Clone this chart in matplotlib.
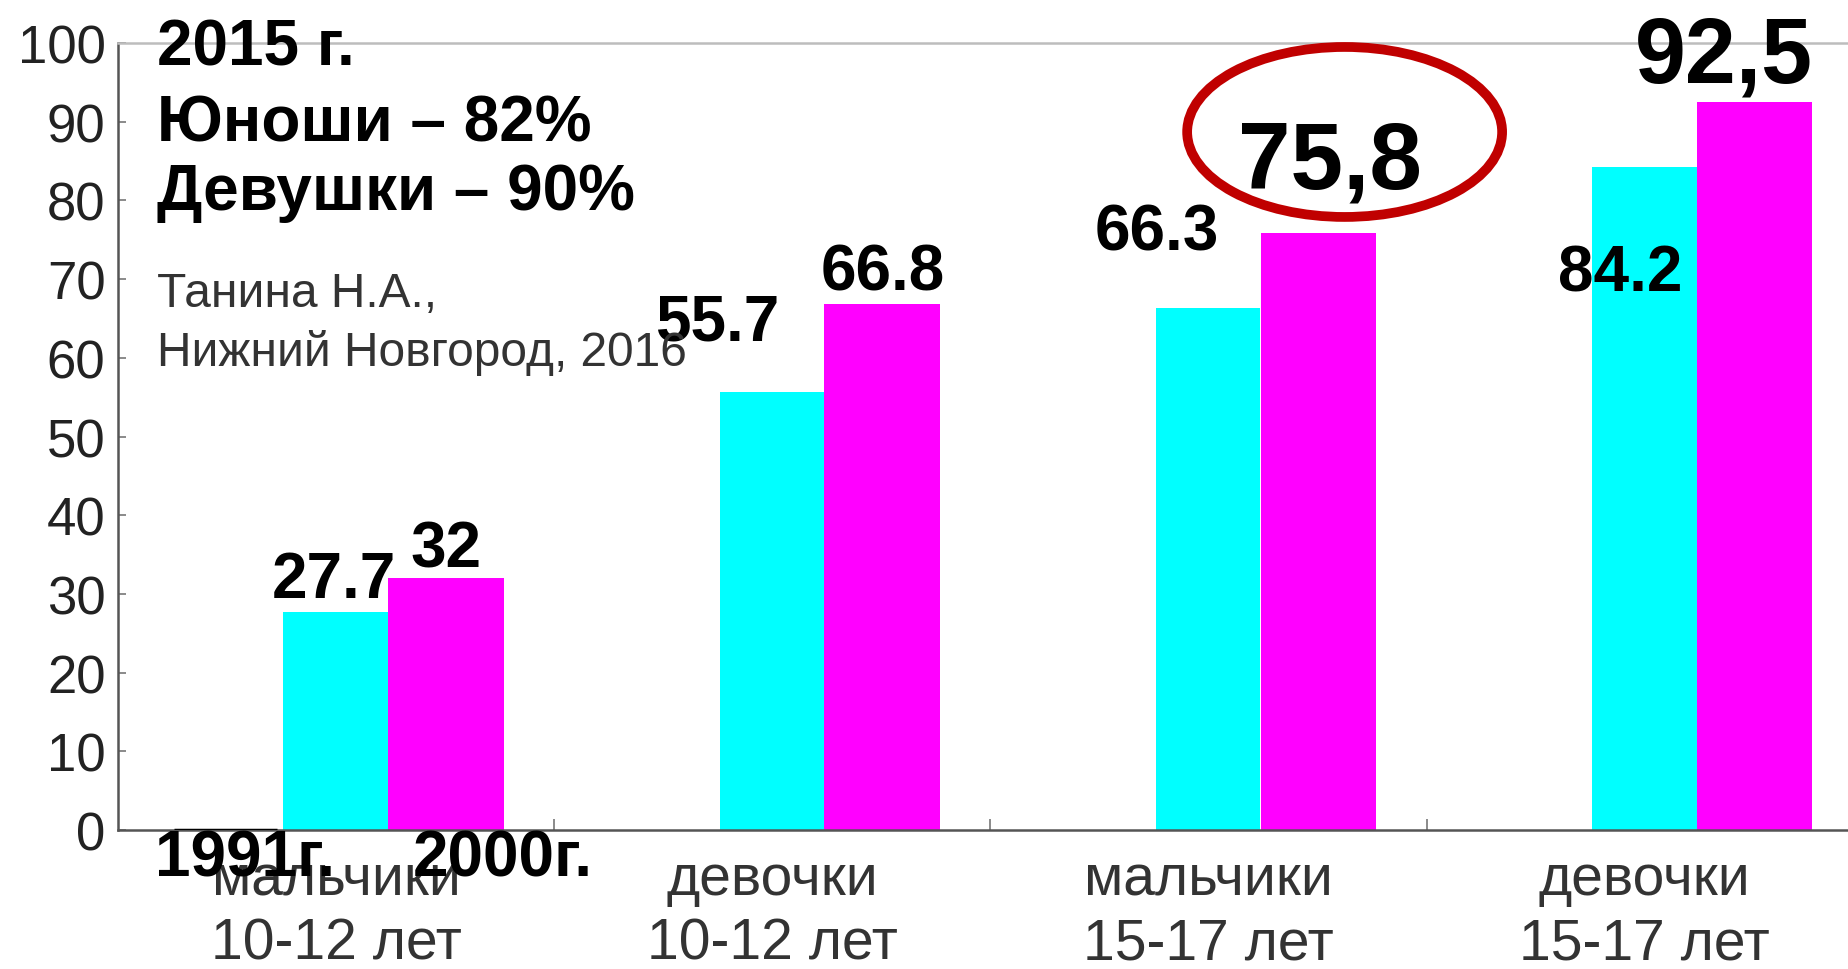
#!/usr/bin/env python3

from matplotlib import patches
from matplotlib.pyplot import close, figure, savefig

# data
groups = ["мальчики\n10-12 лет", "девочки\n10-12 лет", "мальчики\n15-17 лет", "девочки\n15-17 лет"]
v1991 = [0, None, None, None]
v2000a = [27.7, 55.7, 66.3, 84.2]
v2000b = [32.0, 66.8, 75.8, 92.5]
labels_a = ["27.7", "55.7", "66.3", "84.2"]
labels_b = ["32", "66.8", "75,8", "92,5"]
yticks = list(range(0, 101, 10))

FONT = ["Liberation Sans", "DejaVu Sans"]


def main():
    fig = figure(figsize=(18.49, 9.70), dpi=100)
    ax = fig.add_axes([0.0638, 0.1433, 0.9437, 0.8113])
    xs = list(range(len(groups)))

    for i, v in enumerate(v1991):
        if v is not None:
            ax.bar(i - 0.253, v, 0.236, color="k", edgecolor="k", lw=2.5, zorder=3)
    ax.bar([x - 0.001 for x in xs], v2000a, 0.24, color="#00ffff", lw=0, zorder=2)
    ax.bar([x + 0.252 for x in xs], v2000b, 0.265, color="#ff00ff", lw=0, zorder=2)

    ax.set_xlim(-0.5, 3.5)
    ax.set_ylim(0, 100)
    ax.set_yticks(yticks)
    ax.set_yticklabels([str(t) for t in yticks], family=FONT, fontsize=38, color="#222222")
    ax.set_xticks(xs)
    ax.set_xticklabels(groups, family=FONT, fontsize=41, color="#333333", linespacing=1.24)
    ax.set_xticks([0.5, 1.5, 2.5], minor=True)
    ax.tick_params(axis="x", which="major", length=0, pad=16)
    ax.tick_params(axis="x", which="minor", direction="in", length=8, width=1.2, color="#777777")
    ax.tick_params(axis="y", direction="in", length=6, width=1.2, color="#777777", pad=9)

    for side in ["left", "bottom"]:
        ax.spines[side].set_color("#555555")
        ax.spines[side].set_linewidth(1.8)
    ax.spines["top"].set_color("#bdbdbd")
    ax.spines["top"].set_linewidth(1.8)
    ax.spines["right"].set_visible(False)

    # value labels (offsets from the bar tops)
    bold = dict(family=FONT, fontweight="bold", ha="center", va="baseline", color="k")
    pos_a = [(-0.005, 29.6, 46), (0.873, 62.3, 46), (1.882, 73.8, 46), (2.944, 68.6, 46)]
    pos_b = [(0.252, 33.5, 46), (1.254, 68.7, 46), (2.279, 81.6, 68), (3.182, 95.1, 66)]
    for text, (x, y, size) in zip(labels_a + labels_b, pos_a + pos_b):
        ax.text(x, y, text, fontsize=size, **bold)

    ax.add_patch(patches.Ellipse(
        (2.312, 88.7), 0.722, 21.6,
        fill=False, edgecolor="#c00000", lw=7, clip_on=False, zorder=5,
    ))

    # header and source notes
    left = dict(family=FONT, ha="left", va="baseline")
    ax.text(-0.41, 97.3, "2015 г.", fontsize=46, fontweight="bold", **left)
    ax.text(-0.41, 87.6, "Юноши – 82%", fontsize=46, fontweight="bold", **left)
    ax.text(-0.41, 78.9, "Девушки – 90%", fontsize=46, fontweight="bold", **left)
    ax.text(-0.41, 66.6, "Танина Н.А.,", fontsize=34.5, color="#333333", **left)
    ax.text(-0.41, 59.1, "Нижний Новгород, 2016", fontsize=34.5, color="#333333", **left)

    # series names written under the first group
    ax.text(-0.209, -3.6, "1991г.", fontsize=46, fontweight="bold", family=FONT,
            ha="center", va="center", zorder=6)
    ax.text(0.381, -3.6, "2000г.", fontsize=46, fontweight="bold", family=FONT,
            ha="center", va="center", zorder=6)

    savefig("out.png", dpi=100)
    close(fig)


if __name__ == "__main__":
    main()
